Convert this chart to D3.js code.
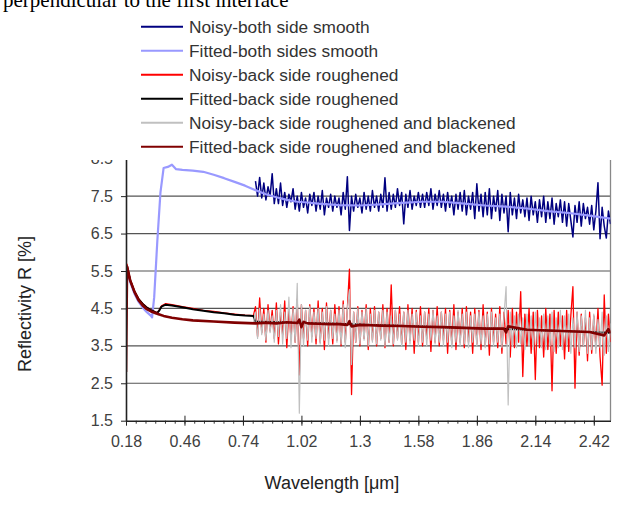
<!DOCTYPE html>
<html>
<head>
<meta charset="utf-8">
<script src="https://cdn.jsdelivr.net/npm/d3@7"></script>
<style>
  body { margin: 0; background: #fff; }
  text { font-family: "Liberation Sans", Arial, sans-serif; }
</style>
</head>
<body>
<div id="chart"></div>
<script>
// x axis labels (major ticks) and y ticks
const xMajor = [0.18, 0.46, 0.74, 1.02, 1.3, 1.58, 1.86, 2.14, 2.42];
const yTicks = [1.5, 2.5, 3.5, 4.5, 5.5, 6.5, 7.5, 8.5];

const legendNames = [
  "Noisy-both side smooth",
  "Fitted-both sides smooth",
  "Noisy-back side roughened",
  "Fitted-back side roughened",
  "Noisy-back side roughened and blackened",
  "Fitted-back side roughened and blackened"
];
const colors = ["#000080", "#9999ff", "#ff0000", "#000000", "#c0c0c0", "#800000"];

// noisy measurements, sampled every 0.01 um from 0.80 to 2.50
const noisyStart = 0.80, noisyStep = 0.01;
const noisyBoth = [
  7.9, 7.5, 8.0, 7.45, 7.85, 7.4, 7.75, 7.5, 8.1, 7.3,
  7.7, 7.3, 7.85, 7.25, 7.6, 7.2, 7.55, 7.35, 7.7, 7.15,
  7.5, 7.1, 7.6, 7.2, 7.45, 7.05, 7.55, 7.25, 7.6, 7.1,
  7.5, 7.15, 7.65, 7.0, 7.45, 7.2, 7.55, 7.1, 7.5, 7.2,
  7.45, 7.0, 7.6, 7.15, 8.02, 6.58, 7.5, 7.1, 7.55, 7.2,
  7.45, 7.05, 7.6, 7.15, 7.5, 7.1, 7.65, 7.2, 7.5, 7.1,
  7.55, 7.2, 7.99, 7.1, 7.6, 7.15, 7.55, 7.2, 7.7, 7.25,
  7.6, 6.76, 7.55, 7.2, 7.65, 7.15, 7.5, 7.25, 7.6, 7.2,
  7.55, 7.2, 7.6, 7.25, 7.7, 7.15, 7.55, 7.25, 7.65, 7.2,
  7.55, 7.1, 7.6, 7.2, 7.5, 7.0, 7.55, 7.15, 7.6, 7.1,
  7.65, 7.0, 7.5, 7.15, 7.6, 6.9, 7.83, 7.1, 7.55, 6.95,
  7.6, 7.0, 7.7, 6.9, 7.5, 7.1, 7.65, 6.85, 7.55, 7.05,
  7.5, 6.55, 7.6, 7.0, 7.45, 6.9, 7.55, 7.05, 7.4, 6.95,
  7.45, 6.85, 7.5, 7.0, 7.35, 6.8, 7.4, 6.95, 7.5, 6.8,
  7.35, 6.9, 7.45, 6.75, 7.3, 6.95, 7.4, 6.8, 7.35, 6.7,
  7.3, 6.85, 6.41, 7.25, 6.8, 7.35, 6.7, 7.3, 6.9, 7.2,
  6.75, 7.25, 6.6, 7.1, 7.86, 6.36, 7.2, 6.7, 6.38, 7.1, 6.75
];
const noisyRough = [
  4.55, 3.75, 4.78, 3.85, 4.5, 3.6, 4.6, 3.9, 4.45, 3.7,
  4.65, 3.55, 4.4, 3.8, 4.7, 3.45, 4.5, 3.7, 4.55, 3.6,
  4.75, 2.72, 4.6, 3.7, 4.45, 3.5, 4.6, 3.75, 4.5, 3.55,
  4.7, 3.6, 4.5, 3.4, 4.65, 3.7, 4.45, 3.55, 4.6, 3.65,
  4.55, 3.5, 4.7, 3.6, 4.5, 5.55, 2.2, 4.4, 3.6, 4.55,
  3.5, 4.45, 3.7, 4.6, 3.4, 4.5, 3.65, 4.55, 3.5, 4.4,
  3.7, 4.6, 3.45, 4.5, 3.6, 5.13, 3.5, 4.45, 3.7, 4.55,
  3.55, 4.4, 3.4, 4.6, 3.65, 4.5, 3.3, 4.45, 3.6, 4.55,
  3.5, 4.4, 3.7, 4.5, 3.35, 4.45, 3.6, 4.55, 3.5, 4.4,
  3.65, 4.5, 3.3, 4.45, 3.55, 4.6, 3.4, 4.4, 3.6, 4.5,
  3.45, 4.55, 3.6, 4.4, 3.3, 4.5, 3.55, 4.45, 3.4, 4.6,
  3.5, 4.4, 3.25, 4.5, 3.6, 4.35, 3.45, 4.55, 3.3, 4.4,
  3.55, 4.45, 3.2, 4.5, 3.45, 4.4, 3.6, 4.95, 2.68, 4.35,
  3.5, 4.5, 3.3, 4.4, 2.6, 4.45, 3.45, 4.3, 3.2, 4.5,
  3.4, 4.35, 2.3, 4.45, 3.3, 4.4, 3.5, 4.3, 3.15, 4.45,
  3.35, 4.3, 5.08, 2.37, 4.4, 3.25, 4.35, 3.5, 4.25, 3.1,
  4.4, 3.3, 4.3, 3.45, 4.5, 3.2, 2.45, 4.86, 3.3, 4.35, 3.6
];
const noisyBlack = [
  4.4, 3.7, 4.5, 3.8, 4.35, 3.65, 4.45, 3.85, 4.3, 3.6,
  4.45, 3.75, 4.6, 3.55, 4.4, 3.7, 4.8, 3.45, 4.5, 3.6,
  5.17, 1.7, 4.6, 3.5, 4.45, 3.65, 4.55, 3.6, 4.4, 3.7,
  4.5, 3.55, 4.4, 3.65, 4.55, 3.5, 4.45, 3.7, 4.35, 3.6,
  4.45, 3.55, 4.6, 3.45, 4.5, 5.0, 3.0, 4.4, 3.6, 4.5,
  3.55, 4.4, 3.65, 4.5, 3.5, 4.35, 3.6, 4.45, 3.55, 4.4,
  3.65, 4.45, 3.5, 4.4, 3.6, 4.3, 3.55, 4.45, 3.65, 4.35,
  3.5, 4.4, 3.6, 4.45, 3.55, 4.35, 3.65, 4.4, 3.5, 4.3,
  3.6, 4.4, 3.5, 4.35, 3.65, 4.45, 3.55, 4.3, 3.6, 4.4,
  3.5, 4.35, 3.6, 4.4, 3.45, 4.3, 3.6, 4.45, 3.5, 4.35,
  3.55, 4.4, 3.45, 4.3, 3.6, 4.35, 3.5, 4.4, 3.55, 4.3,
  3.45, 4.35, 3.55, 4.4, 3.5, 4.25, 3.6, 4.35, 3.45, 4.3,
  5.08, 1.92, 4.4, 3.5, 4.3, 3.45, 4.35, 3.55, 4.25, 3.4,
  4.35, 3.5, 4.3, 3.4, 4.4, 3.55, 4.25, 3.45, 4.35, 3.4,
  4.3, 3.5, 4.4, 3.35, 4.25, 3.45, 4.45, 3.4, 4.3, 3.5,
  4.35, 3.3, 4.25, 3.45, 4.4, 3.35, 4.3, 3.5, 4.45, 3.3,
  4.25, 3.4, 4.35, 3.3, 4.2, 3.45, 4.4, 3.25, 4.3, 3.35, 4.1
];

// UV part of the two roughened measurements (before 0.80 um)
const uvX = [0.18, 0.185, 0.2, 0.22, 0.24, 0.26, 0.28, 0.3, 0.32, 0.33, 0.34,
  0.35, 0.37, 0.4, 0.45, 0.5, 0.55, 0.6, 0.65, 0.7, 0.75, 0.79];
const uvRough = [2.85, 5.68, 5.28, 4.97, 4.77, 4.63, 4.53, 4.46, 4.41, 4.39, 4.47,
  4.57, 4.63, 4.6, 4.55, 4.5, 4.45, 4.42, 4.38, 4.35, 4.32, 4.31];
const uvBlack = [2.8, 5.6, 5.24, 4.94, 4.71, 4.57, 4.47, 4.41, 4.35, 4.33, 4.31,
  4.3, 4.28, 4.25, 4.21, 4.18, 4.16, 4.15, 4.13, 4.12, 4.11, 4.1];

// fitted curves
const fitBothX = [0.185, 0.2, 0.22, 0.24, 0.26, 0.28, 0.3, 0.305, 0.315, 0.33, 0.345,
  0.36, 0.38, 0.4, 0.42, 0.45, 0.5, 0.55, 0.6, 0.65, 0.7, 0.75, 0.8, 0.85, 0.9, 0.95,
  1.0, 1.05, 1.1, 1.2, 1.3, 1.4, 1.5, 1.6, 1.7, 1.8, 1.9, 2.0, 2.1, 2.2, 2.3, 2.4, 2.5];
const fitBoth = [5.6, 5.2, 4.9, 4.68, 4.52, 4.4, 4.3, 4.26, 4.8, 6.3, 7.6,
  8.25, 8.28, 8.34, 8.22, 8.2, 8.18, 8.15, 8.07, 7.98, 7.88, 7.78, 7.66, 7.55, 7.47, 7.4,
  7.35, 7.33, 7.3, 7.26, 7.25, 7.28, 7.32, 7.35, 7.35, 7.3, 7.25, 7.22, 7.17, 7.1, 7.05, 6.98, 6.9];

const fitRoughX = [0.185, 0.2, 0.22, 0.24, 0.26, 0.28, 0.3, 0.32, 0.33, 0.34, 0.35,
  0.37, 0.4, 0.45, 0.5, 0.55, 0.6, 0.65, 0.7, 0.75, 0.79, 0.8, 0.9, 1.0, 1.2, 1.4,
  1.6, 1.8, 2.0, 2.2, 2.4, 2.5];
const fitRough = [5.6, 5.25, 4.95, 4.75, 4.62, 4.52, 4.45, 4.4, 4.38, 4.45, 4.55,
  4.6, 4.58, 4.53, 4.48, 4.44, 4.4, 4.37, 4.33, 4.31, 4.3, 4.15, 4.13, 4.12, 4.09, 4.05,
  4.02, 3.98, 3.95, 3.91, 3.87, 3.85];

const fitBlackX = [0.18, 0.185, 0.2, 0.22, 0.24, 0.26, 0.28, 0.3, 0.33, 0.36, 0.4,
  0.45, 0.5, 0.6, 0.7, 0.8, 0.85, 0.9, 0.95, 1.0, 1.01, 1.02, 1.03, 1.05, 1.1, 1.15,
  1.2, 1.24, 1.25, 1.26, 1.3, 1.35, 1.4, 1.5, 1.6, 1.7, 1.8, 1.9, 1.99, 2.0, 2.01,
  2.1, 2.2, 2.3, 2.4, 2.47, 2.49, 2.5];
const fitBlack = [2.8, 5.62, 5.25, 4.95, 4.72, 4.58, 4.48, 4.42, 4.36, 4.3, 4.25,
  4.21, 4.18, 4.15, 4.12, 4.1, 4.12, 4.1, 4.13, 4.11, 4.2, 4.0, 4.14, 4.1, 4.09, 4.08,
  4.08, 4.06, 4.16, 4.02, 4.06, 4.05, 4.04, 4.03, 4.01, 4.0, 3.98, 3.96, 3.96, 3.86, 4.02,
  3.93, 3.91, 3.89, 3.87, 3.78, 3.95, 3.84];

const width = 632, height = 510;
const svg = d3.select("#chart").append("svg")
  .attr("width", width)
  .attr("height", height);

const x = d3.scaleLinear().domain([0.18, 2.5]).range([126, 610.5]);
const y = d3.scaleLinear().domain([1.5, 8.5]).range([420.7, 158.7]);

// build point lists
const noisyX = noisyBoth.map(function(d, i) { return +(noisyStart + i * noisyStep).toFixed(2); });
function pts(xs, ys) { return xs.map(function(v, i) { return [v, ys[i]]; }); }

const series = [
  pts(noisyX, noisyBoth),
  pts(fitBothX, fitBoth),
  pts(uvX, uvRough).concat(pts(noisyX, noisyRough)),
  pts(fitRoughX, fitRough),
  pts(uvX, uvBlack).concat(pts(noisyX, noisyBlack)),
  pts(fitBlackX, fitBlack)
];
const widths = [1.5, 2.2, 1.3, 2, 1.2, 2.6];

// grid lines
svg.append("g")
  .selectAll("line")
  .data(yTicks.slice(1))
  .enter().append("line")
  .attr("x1", x(0.18)).attr("x2", x(2.5))
  .attr("y1", function(d) { return y(d); })
  .attr("y2", function(d) { return y(d); })
  .style("stroke", "#555")
  .style("stroke-width", 1.2);

// right border of plot area
svg.append("line")
  .attr("x1", x(2.5)).attr("x2", x(2.5))
  .attr("y1", y(8.5)).attr("y2", y(1.5))
  .style("stroke", "#888")
  .style("stroke-width", 1.3);

svg.append("clipPath").attr("id", "plot")
  .append("rect")
  .attr("x", x(0.18)).attr("y", y(8.5))
  .attr("width", x(2.5) - x(0.18)).attr("height", y(1.5) - y(8.5));

const line = d3.line()
  .x(function(d) { return x(d[0]); })
  .y(function(d) { return y(d[1]); });

svg.append("g")
  .attr("clip-path", "url(#plot)")
  .selectAll("path")
  .data(series)
  .enter().append("path")
  .attr("d", line)
  .style("fill", "none")
  .style("stroke", function(d, i) { return colors[i]; })
  .style("stroke-width", function(d, i) { return widths[i]; })
  .style("stroke-linejoin", "round");

// x axis: minor ticks below, major ticks across
const xMinor = d3.range(49).map(function(k) { return 0.18 + k * 0.28 / 6; })
  .filter(function(v) { return v <= 2.5; });

svg.append("g")
  .attr("transform", "translate(0," + y(1.5) + ")")
  .call(d3.axisBottom(x).tickValues(xMinor).tickSize(3).tickFormat(""))
  .call(function(g) { g.select(".domain").remove(); })
  .selectAll("line").style("stroke", "#333");

const xAxis = svg.append("g")
  .attr("transform", "translate(0," + y(1.5) + ")")
  .call(d3.axisBottom(x).tickValues(xMajor).tickSize(5).tickSizeOuter(0)
    .tickFormat(function(d) { return String(+d.toFixed(2)); }));
xAxis.select(".domain").style("stroke", "#222").style("stroke-width", 1.6);
xAxis.selectAll(".tick line").attr("y1", -5).style("stroke", "#222");
xAxis.selectAll(".tick text")
  .attr("y", 26).attr("dy", null)
  .style("font-size", "16px")
  .style("fill", "#404040");

// y axis
const yAxis = svg.append("g")
  .attr("transform", "translate(" + x(0.18) + ",0)")
  .call(d3.axisLeft(y).tickValues(yTicks).tickSize(5).tickSizeOuter(0).tickPadding(8)
    .tickFormat(d3.format(".1f")));
yAxis.select(".domain").style("stroke", "#222").style("stroke-width", 1.6);
yAxis.selectAll(".tick line").style("stroke", "#222");
yAxis.selectAll(".tick text")
  .style("font-size", "16px")
  .style("fill", "#404040");

// axis titles
svg.append("text")
  .attr("x", 332).attr("y", 489)
  .attr("text-anchor", "middle")
  .style("font-size", "18px")
  .style("fill", "#222")
  .text("Wavelength [\u03bcm]");

svg.append("text")
  .attr("transform", "translate(31,304) rotate(-90)")
  .attr("text-anchor", "middle")
  .style("font-size", "18px")
  .style("fill", "#222")
  .text("Reflectivity R [%]");

// the legend box of the page covers the top of the plot
svg.append("rect")
  .attr("x", 0).attr("y", 0)
  .attr("width", width).attr("height", 160)
  .style("fill", "#fff");

// last line of the page text, cut off by the crop
svg.append("text")
  .attr("x", 3).attr("y", 7)
  .style("font-family", "'Liberation Serif', 'Times New Roman', serif")
  .style("font-size", "21px")
  .style("fill", "#000")
  .text("perpendicular to the first interface");

// legend
const legend = svg.append("g")
  .selectAll("g")
  .data(legendNames)
  .enter().append("g")
  .attr("transform", function(d, i) { return "translate(141," + (26.7 + i * 24) + ")"; });

legend.append("line")
  .attr("x1", 0).attr("x2", 42)
  .style("stroke", function(d, i) { return colors[i]; })
  .style("stroke-width", 2);

legend.append("text")
  .attr("x", 48)
  .attr("dy", "0.36em")
  .style("font-size", "17.3px")
  .style("fill", "#333")
  .text(function(d) { return d; });
</script>
</body>
</html>
